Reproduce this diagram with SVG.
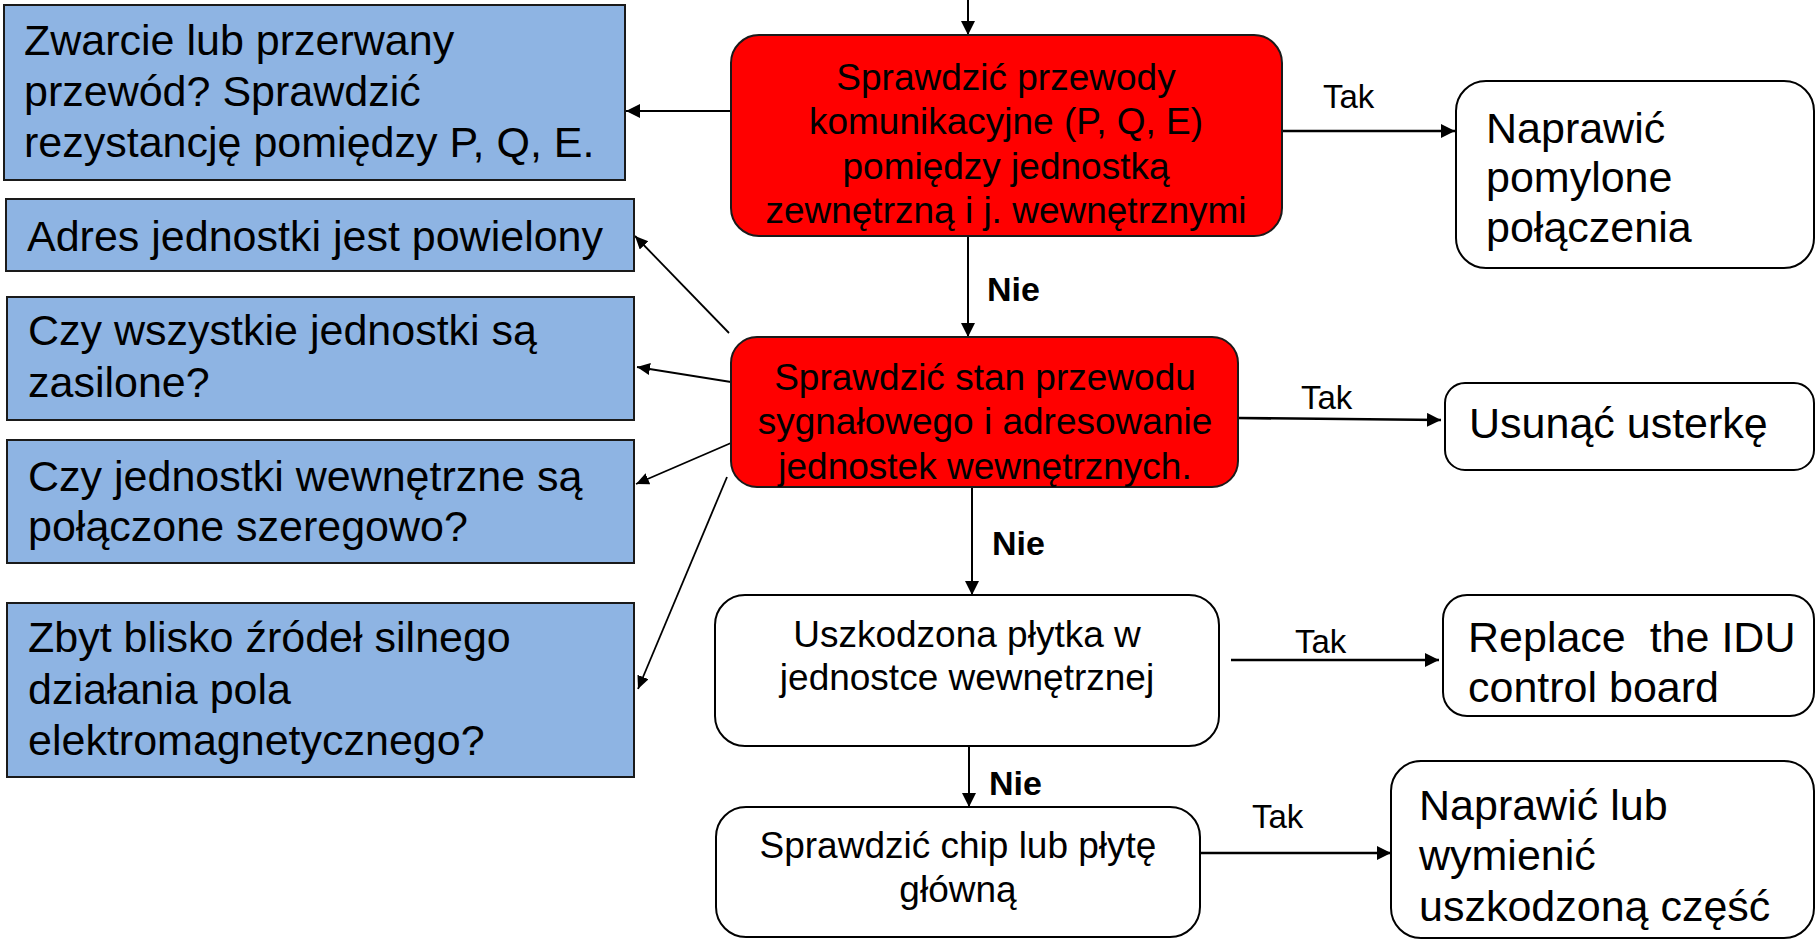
<svg xmlns="http://www.w3.org/2000/svg" width="1816" height="940" viewBox="0 0 1816 940">
  <style>
    text { font-family: "Liberation Sans", Arial, sans-serif; fill: #000; }
    .cause { fill: #8EB4E3; stroke: #1a1a1a; stroke-width: 2; }
    .check { fill: #FF0000; stroke: #1a1a1a; stroke-width: 2; }
    .step { fill: #FFFFFF; stroke: #000; stroke-width: 2; }
    .big { font-size: 43px; }
    .mid { font-size: 37px; }
    .tak { font-size: 33px; }
    .nie { font-size: 34px; font-weight: bold; }
    .wire { fill: none; stroke: #000; stroke-width: 2; }
    .wire.thick { stroke-width: 2.6; }
    .wire.thin { stroke-width: 1.8; }
  </style>
  <defs>
    <marker id="head" markerUnits="userSpaceOnUse" markerWidth="16" markerHeight="16" refX="14" refY="7" orient="auto">
      <path d="M0,0 L14,7 L0,14 z" fill="#000"/>
    </marker>
    <marker id="headSmall" markerUnits="userSpaceOnUse" markerWidth="14" markerHeight="14" refX="13" refY="6" orient="auto">
      <path d="M0,0 L13,6 L0,12 z" fill="#000"/>
    </marker>
  </defs>

  <rect width="1816" height="940" fill="#FFFFFF"/>

  <!-- connectors -->
  <g id="connectors">
    <line class="wire" x1="968" y1="0" x2="968" y2="35" marker-end="url(#head)"/>
    <line class="wire" x1="731" y1="111" x2="626" y2="111" marker-end="url(#head)"/>
    <line class="wire thick" x1="1282" y1="131" x2="1455" y2="131" marker-end="url(#head)"/>
    <line class="wire" x1="968" y1="236" x2="968" y2="337" marker-end="url(#head)"/>
    <line class="wire thin" x1="729" y1="333" x2="635" y2="236" marker-end="url(#headSmall)"/>
    <line class="wire thin" x1="731" y1="382" x2="637" y2="367" marker-end="url(#headSmall)"/>
    <line class="wire thin" x1="731" y1="443" x2="636" y2="484" marker-end="url(#headSmall)"/>
    <line class="wire thin" x1="727" y1="477" x2="638" y2="689" marker-end="url(#headSmall)"/>
    <line class="wire thick" x1="1238" y1="418" x2="1441" y2="420" marker-end="url(#head)"/>
    <line class="wire" x1="972" y1="487" x2="972" y2="595" marker-end="url(#head)"/>
    <line class="wire thick" x1="1231" y1="660" x2="1439" y2="660" marker-end="url(#head)"/>
    <line class="wire" x1="969" y1="746" x2="969" y2="807" marker-end="url(#head)"/>
    <line class="wire thick" x1="1200" y1="853" x2="1391" y2="853" marker-end="url(#head)"/>

    <text class="tak" x="1323" y="108">Tak</text>
    <text class="tak" x="1301" y="409">Tak</text>
    <text class="tak" x="1295" y="653">Tak</text>
    <text class="tak" x="1252" y="828">Tak</text>
    <text class="nie" x="987" y="301">Nie</text>
    <text class="nie" x="992" y="555">Nie</text>
    <text class="nie" x="989" y="795">Nie</text>
  </g>

  <!-- possible causes -->
  <g id="cause-wiring">
    <rect class="cause" x="4" y="5" width="621" height="175"/>
    <text class="big" x="24" y="55">Zwarcie lub przerwany</text>
    <text class="big" x="24" y="106">przewód? Sprawdzić</text>
    <text class="big" x="24" y="157">rezystancję pomiędzy P, Q, E.</text>
  </g>
  <g id="cause-address">
    <rect class="cause" x="6" y="199" width="628" height="72"/>
    <text class="big" x="27" y="251">Adres jednostki jest powielony</text>
  </g>
  <g id="cause-power">
    <rect class="cause" x="7" y="297" width="627" height="123"/>
    <text class="big" x="28" y="345">Czy wszystkie jednostki są</text>
    <text class="big" x="28" y="397">zasilone?</text>
  </g>
  <g id="cause-series">
    <rect class="cause" x="7" y="440" width="627" height="123"/>
    <text class="big" x="28" y="491">Czy jednostki wewnętrzne są</text>
    <text class="big" x="28" y="541">połączone szeregowo?</text>
  </g>
  <g id="cause-emi">
    <rect class="cause" x="7" y="603" width="627" height="174"/>
    <text class="big" x="28" y="652">Zbyt blisko źródeł silnego</text>
    <text class="big" x="28" y="704">działania pola</text>
    <text class="big" x="28" y="755">elektromagnetycznego?</text>
  </g>

  <!-- checks -->
  <g id="check-comm" text-anchor="middle">
    <rect class="check" x="731" y="35" width="551" height="201" rx="28"/>
    <text class="mid" x="1006" y="90">Sprawdzić przewody</text>
    <text class="mid" x="1006" y="134">komunikacyjne (P, Q, E)</text>
    <text class="mid" x="1006" y="179">pomiędzy jednostką</text>
    <text class="mid" x="1006" y="223">zewnętrzną i j. wewnętrznymi</text>
  </g>
  <g id="check-signal" text-anchor="middle">
    <rect class="check" x="731" y="337" width="507" height="150" rx="26"/>
    <text class="mid" x="985" y="390">Sprawdzić stan przewodu</text>
    <text class="mid" x="985" y="434">sygnałowego i adresowanie</text>
    <text class="mid" x="985" y="479">jednostek wewnętrznych.</text>
  </g>
  <g id="check-board" text-anchor="middle">
    <rect class="step" x="715" y="595" width="504" height="151" rx="30"/>
    <text class="mid" x="967" y="647">Uszkodzona płytka w</text>
    <text class="mid" x="967" y="690">jednostce wewnętrznej</text>
  </g>
  <g id="check-chip" text-anchor="middle">
    <rect class="step" x="716" y="807" width="484" height="130" rx="30"/>
    <text class="mid" x="958" y="858">Sprawdzić chip lub płytę</text>
    <text class="mid" x="958" y="902">główną</text>
  </g>

  <!-- remedies -->
  <g id="fix-wiring">
    <rect class="step" x="1456" y="81" width="358" height="187" rx="30"/>
    <text class="big" x="1486" y="143">Naprawić</text>
    <text class="big" x="1486" y="192">pomylone</text>
    <text class="big" x="1486" y="242">połączenia</text>
  </g>
  <g id="fix-fault">
    <rect class="step" x="1445" y="383" width="369" height="87" rx="20"/>
    <text class="big" x="1469" y="438">Usunąć usterkę</text>
  </g>
  <g id="fix-board">
    <rect class="step" x="1443" y="595" width="371" height="121" rx="24"/>
    <text class="big" x="1468" y="652" xml:space="preserve">Replace  the IDU</text>
    <text class="big" x="1468" y="702">control board</text>
  </g>
  <g id="fix-part">
    <rect class="step" x="1391" y="761" width="423" height="177" rx="30"/>
    <text class="big" x="1419" y="820">Naprawić lub</text>
    <text class="big" x="1419" y="870">wymienić</text>
    <text class="big" x="1419" y="921">uszkodzoną część</text>
  </g>
</svg>
